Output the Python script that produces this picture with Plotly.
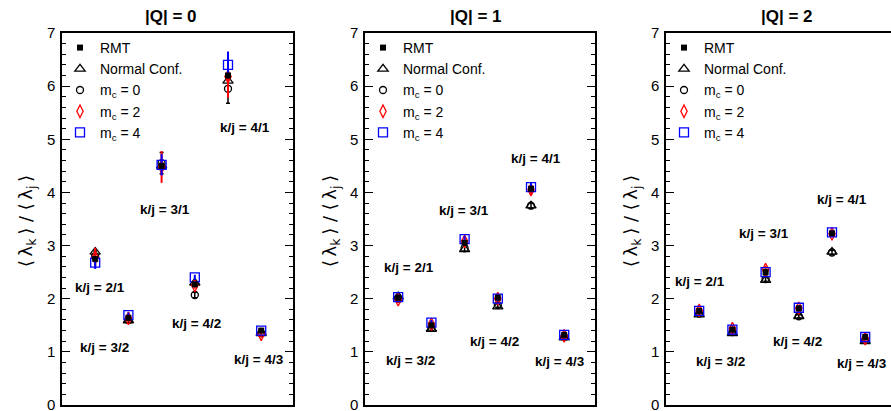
import plotly.graph_objects as go

categories = ["2/1", "3/2", "3/1", "4/2", "4/1", "4/3"]
panel_titles = ["|Q| = 0", "|Q| = 1", "|Q| = 2"]
series_names = ["RMT", "Normal Conf.", "m<sub>c</sub> = 0", "m<sub>c</sub> = 2", "m<sub>c</sub> = 4"]

# values per panel (|Q| = 0, 1, 2)
rmt_q0 = [2.75, 1.64, 4.50, 2.27, 6.20, 1.40]
rmt_q1 = [2.02, 1.50, 3.05, 2.02, 4.07, 1.32]
rmt_q2 = [1.77, 1.42, 2.50, 1.82, 3.23, 1.28]

normal_q0 = [2.88, 1.59, 4.50, 2.30, 6.10, 1.35]
normal_q1 = [2.04, 1.43, 2.93, 1.85, 3.75, 1.27]
normal_q2 = [1.70, 1.35, 2.35, 1.67, 2.88, 1.20]

m0_q0 = [2.80, 1.60, 4.55, 2.07, 5.95, 1.35]
m0_q1 = [2.00, 1.45, 2.95, 1.88, 3.75, 1.28]
m0_q2 = [1.72, 1.37, 2.37, 1.67, 2.87, 1.22]

m2_q0 = [2.78, 1.63, 4.48, 2.25, 6.18, 1.33]
m2_q1 = [1.98, 1.52, 3.08, 2.00, 4.05, 1.30]
m2_q2 = [1.78, 1.44, 2.55, 1.82, 3.22, 1.25]

m4_q0 = [2.68, 1.69, 4.52, 2.40, 6.40, 1.40]
m4_q1 = [2.03, 1.55, 3.12, 2.00, 4.10, 1.32]
m4_q2 = [1.77, 1.42, 2.50, 1.83, 3.25, 1.28]

# statistical errors
err_m0_q0 = [0.10, 0.05, 0.20, 0.05, 0.27, 0.04]
err_m2_q0 = [0.18, 0.06, 0.30, 0.06, 0.40, 0.05]
err_m4_q0 = [0.12, 0.05, 0.20, 0.05, 0.25, 0.04]
err_m0_q1 = [0.04, 0.04, 0.05, 0.04, 0.05, 0.03]
err_m2_q1 = [0.06, 0.06, 0.07, 0.06, 0.10, 0.05]
err_m4_q1 = [0.05, 0.05, 0.06, 0.05, 0.08, 0.04]
err_m0_q2 = [0.03, 0.03, 0.04, 0.03, 0.04, 0.03]
err_m2_q2 = [0.06, 0.06, 0.07, 0.06, 0.06, 0.05]
err_m4_q2 = [0.05, 0.05, 0.05, 0.05, 0.05, 0.04]

# label positions (category index units, y value) per panel
label_x_q0 = [0.14, 0.27, 2.10, 3.04, 4.50, 4.93]
label_y_q0 = [2.21, 1.09, 3.68, 1.54, 5.22, 0.86]
label_x_q1 = [0.33, 0.36, 1.99, 2.90, 4.15, 4.87]
label_y_q1 = [2.59, 0.83, 3.66, 1.19, 4.63, 0.81]
label_x_q2 = [0.03, 0.63, 1.95, 2.95, 4.30, 4.90]
label_y_q2 = [2.33, 0.81, 3.23, 1.20, 3.86, 0.79]

panels = [
    dict(rmt=rmt_q0, normal=normal_q0, m0=m0_q0, m2=m2_q0, m4=m4_q0,
         e0=err_m0_q0, e2=err_m2_q0, e4=err_m4_q0, lx=label_x_q0, ly=label_y_q0),
    dict(rmt=rmt_q1, normal=normal_q1, m0=m0_q1, m2=m2_q1, m4=m4_q1,
         e0=err_m0_q1, e2=err_m2_q1, e4=err_m4_q1, lx=label_x_q1, ly=label_y_q1),
    dict(rmt=rmt_q2, normal=normal_q2, m0=m0_q2, m2=m2_q2, m4=m4_q2,
         e0=err_m0_q2, e2=err_m2_q2, e4=err_m4_q2, lx=label_x_q2, ly=label_y_q2),
]

W, H = 891, 411
FONT = "Liberation Sans, Arial, sans-serif"
frame_left = [62, 365, 666]
frame_right = [293, 595, 891]
px_per_unit = 33.2
plot_top, plot_bottom = 33, 405

fig = go.Figure()
legend_ids = ["legend", "legend2", "legend3"]

for i, p in enumerate(panels):
    xa = "x" if i == 0 else f"x{i+1}"
    ya = "y" if i == 0 else f"y{i+1}"
    lg = legend_ids[i]
    common = dict(x=categories, mode="markers", xaxis=xa, yaxis=ya, legend=lg,
                  cliponaxis=False)
    fig.add_trace(go.Scatter(y=p["normal"], name=series_names[1], legendrank=2,
                             marker=dict(symbol="triangle-up-open", size=9, color="black",
                                         line=dict(width=1.3)), **common))
    fig.add_trace(go.Scatter(y=p["m0"], name=series_names[2], legendrank=3,
                             error_y=dict(type="data", array=p["e0"], color="black",
                                          thickness=1.5, width=2),
                             marker=dict(symbol="circle-open", size=7, color="black",
                                         line=dict(width=1.3)), **common))
    fig.add_trace(go.Scatter(y=p["m2"], name=series_names[3], legendrank=4,
                             error_y=dict(type="data", array=p["e2"], color="red",
                                          thickness=2, width=0),
                             marker=dict(symbol="diamond-tall-open", size=9, color="red",
                                         line=dict(width=1.3)), **common))
    fig.add_trace(go.Scatter(y=p["m4"], name=series_names[4], legendrank=5,
                             error_y=dict(type="data", array=p["e4"], color="blue",
                                          thickness=2, width=0),
                             marker=dict(symbol="square-open", size=9, color="blue",
                                         line=dict(width=1.3)), **common))
    fig.add_trace(go.Scatter(y=p["rmt"], name=series_names[0], legendrank=1,
                             marker=dict(symbol="square", size=6, color="black"), **common))

    # k/j labels
    for cat, lx, ly in zip(categories, p["lx"], p["ly"]):
        fig.add_annotation(x=lx, y=ly, xref=xa, yref=ya, text=f"<b>k/j = {cat}</b>",
                           showarrow=False, xanchor="center", yanchor="middle",
                           font=dict(family=FONT, size=13.5, color="black"))

    # axes
    left, right = frame_left[i], frame_right[i]
    xr = [-1, -1 + (right - left) / px_per_unit]
    xkey = "xaxis" if i == 0 else f"xaxis{i+1}"
    ykey = "yaxis" if i == 0 else f"yaxis{i+1}"
    fig.update_layout(**{
        xkey: dict(domain=[left / W, right / W], range=xr, type="category",
                   showline=True, linecolor="black", linewidth=1.5, mirror=True,
                   showticklabels=False, ticks="", showgrid=False, zeroline=False,
                   anchor=ya, fixedrange=True, automargin=False),
        ykey: dict(domain=[(H - plot_bottom) / H, (H - plot_top) / H], range=[0, 7],
                   dtick=1, tick0=0, ticks="inside", ticklen=8, tickwidth=1,
                   tickcolor="black",
                   minor=dict(dtick=0.2, ticks="inside", ticklen=4, tickwidth=1,
                              tickcolor="black", showgrid=False),
                   showline=True, linecolor="black", linewidth=1.5,
                   mirror=("allticks" if i < 2 else False),
                   showgrid=False, zeroline=False, anchor=xa, automargin=False,
                   tickfont=dict(family=FONT, size=15, color="black"),
                   ticklabeloverflow="allow",
                   ticklabelstandoff=2, fixedrange=True),
    })
    # panel title
    title_cx = [171, 476, 787][i]
    fig.add_annotation(x=title_cx / W, y=1 - 17 / H, xref="paper", yref="paper",
                       text=f"<b>{panel_titles[i]}</b>", showarrow=False,
                       xanchor="center", yanchor="middle",
                       font=dict(family=FONT, size=17, color="black"))
    # y title
    ytitle_cx = [27, 331, 632][i]
    fig.add_annotation(x=ytitle_cx / W, y=1 - 221 / H, xref="paper", yref="paper",
                       text="⟨\u2009λ<sub>k</sub>\u2009⟩ / ⟨\u2009λ<sub>j</sub>\u2009⟩",
                       textangle=-90, showarrow=False, xanchor="center", yanchor="middle",
                       font=dict(family="DejaVu Sans, sans-serif", size=18, color="black"))

legend_left = [60, 363, 664]
for i, lg in enumerate(legend_ids):
    fig.update_layout(**{lg: dict(x=legend_left[i] / W, y=1 - 32 / H, xanchor="left",
                                  yanchor="top", bgcolor="rgba(0,0,0,0)",
                                  font=dict(family=FONT, size=14, color="black"),
                                  tracegroupgap=0, itemwidth=30)})

fig.update_layout(width=W, height=H, margin=dict(l=0, r=0, t=0, b=0),
                  paper_bgcolor="white", plot_bgcolor="white", showlegend=True,
                  font=dict(family=FONT, color="black"))

fig.write_html("out.html", config={"displayModeBar": False},
               post_script="document.body.style.margin='0';document.body.style.padding='0';document.body.style.overflow='hidden';")
